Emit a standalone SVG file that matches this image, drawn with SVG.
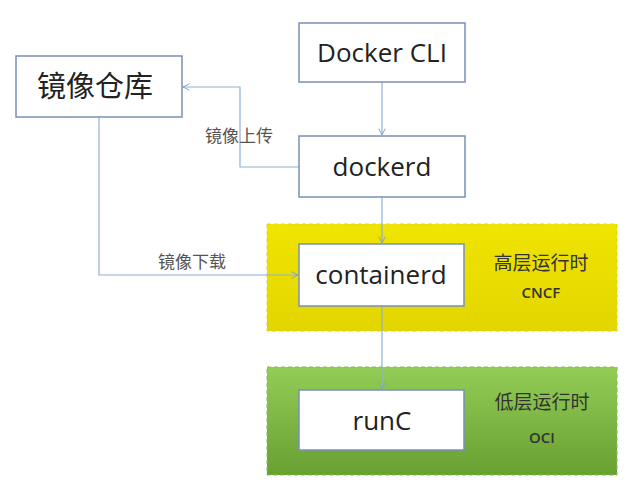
<svg xmlns="http://www.w3.org/2000/svg" width="642" height="495" viewBox="0 0 642 495">
<defs>
<linearGradient id="gy" x1="0" y1="0" x2="0" y2="1">
<stop offset="0" stop-color="#f0e400"/>
<stop offset="1" stop-color="#e3d600"/>
</linearGradient>
<linearGradient id="gg" x1="0" y1="0" x2="0" y2="1">
<stop offset="0" stop-color="#93cd55"/>
<stop offset="1" stop-color="#68a032"/>
</linearGradient>
<marker id="ah" viewBox="0 0 10 10" refX="9" refY="5" markerWidth="8" markerHeight="8" orient="auto" markerUnits="userSpaceOnUse">
<path d="M1,1 L9,5 L1,9" fill="none" stroke="#7f9fcb" stroke-width="1.2"/>
</marker>
<style>
.box{fill:#ffffff;stroke:#7890b8;stroke-width:1.5}
.node{font-family:"Open Sans","Liberation Sans",sans-serif;font-size:26px;fill:#222;text-anchor:middle}
.cjk{font-family:"Noto Sans CJK SC",sans-serif;fill:#222;text-anchor:middle}
.lbl{font-family:"Noto Sans CJK SC",sans-serif;font-size:17px;fill:#555;text-anchor:middle}
.band{font-family:"Noto Sans CJK SC",sans-serif;font-size:19px;fill:#333;text-anchor:middle}
.sub{font-family:"Open Sans","Liberation Sans",sans-serif;font-size:15px;font-weight:600;fill:#333;text-anchor:middle}
.conn{fill:none;stroke:#8fb0d8;stroke-width:1.2}
</style>
</defs>
<rect width="642" height="495" fill="#ffffff"/>
<g id="band-high">
<rect x="267" y="224" width="350" height="107" fill="url(#gy)" stroke="#e0d420" stroke-width="1" stroke-dasharray="4 3"/>
<text class="band" x="541" y="270">高层运行时</text>
<text class="sub" x="541" y="298">CNCF</text>
</g>
<g id="band-low">
<rect x="267" y="367" width="350" height="108" fill="url(#gg)" stroke="#86bd50" stroke-width="1" stroke-dasharray="4 3"/>
<text class="band" x="542" y="409">低层运行时</text>
<text class="sub" x="542" y="443">OCI</text>
</g>
<g id="connectors">
<path class="conn" d="M382,82 L382,135" marker-end="url(#ah)"/>
<path class="conn" d="M382,197 L382,243" marker-end="url(#ah)"/>
<path class="conn" d="M382,306 L382,389" marker-end="url(#ah)"/>
<path class="conn" d="M299,167 L240,167 L240,87 L183,87" marker-end="url(#ah)"/>
<path class="conn" d="M99,117 L99,275 L298,275" marker-end="url(#ah)"/>
<text class="lbl" x="239" y="142">镜像上传</text>
<text class="lbl" x="192" y="268">镜像下载</text>
</g>
<g id="registry">
<rect class="box" x="16" y="56" width="166" height="61"/>
<text class="cjk" x="95" y="97" font-size="29">镜像仓库</text>
</g>
<g id="docker-cli">
<rect class="box" x="299" y="23" width="166" height="59"/>
<text class="node" x="382" y="62">Docker CLI</text>
</g>
<g id="dockerd">
<rect class="box" x="299" y="136" width="166" height="61"/>
<text class="node" x="382" y="176">dockerd</text>
</g>
<g id="containerd">
<rect class="box" x="299" y="244" width="165" height="62"/>
<text class="node" x="381" y="284">containerd</text>
</g>
<g id="runc">
<rect class="box" x="299" y="390" width="165" height="60"/>
<text class="node" x="382" y="430">runC</text>
</g>
</svg>
